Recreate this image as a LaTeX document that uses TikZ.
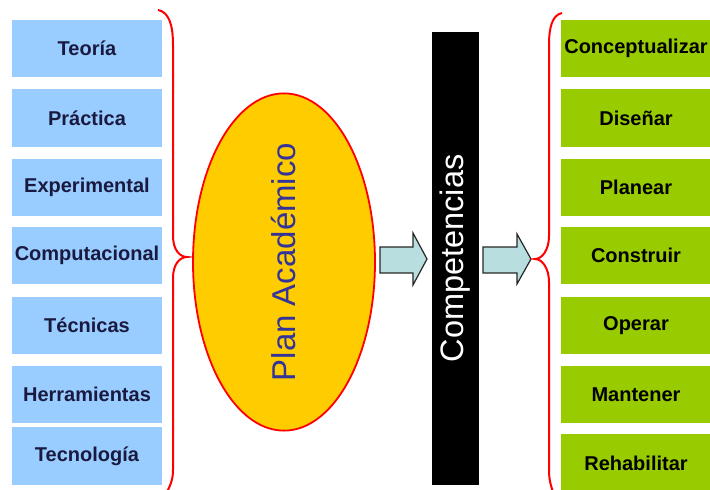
\documentclass[tikz,border=0pt]{standalone}
\usepackage{fontspec}
\setmainfont{Liberation Sans}
\usetikzlibrary{shapes.geometric}
\definecolor{lblue}{HTML}{99CCFF}
\definecolor{lgreen}{HTML}{99CC00}
\definecolor{gold}{HTML}{FFCC00}
\definecolor{navy}{HTML}{1A1A40}
\definecolor{pblue}{HTML}{333399}
\definecolor{acyan}{HTML}{B8DEE0}
\begin{document}
\begin{tikzpicture}[x=1pt,y=-1pt,
  boxbase/.style={rectangle, draw=none, inner sep=0pt, minimum width=150pt,
    font=\fontsize{20}{21}\selectfont\bfseries},
  lbox/.style={boxbase, fill=lblue, text=navy},
  rbox/.style={boxbase, fill=lgreen, text=black},
  bracestyle/.style={draw=red, line width=2pt},
  blockarrow/.style={fill=acyan, draw=black!85, line width=1.2pt, line join=miter}]
\useasboundingbox (0,0) rectangle (710,490);
% left column
\node[lbox, minimum height=57pt] (l1) at (87,48.5) {Teoría};
\node[lbox, minimum height=58pt] (l2) at (87,118) {Práctica};
\node[lbox, minimum height=57pt] (l3) at (87,187.5) {Experimental};
\node[lbox, minimum height=57pt] (l4) at (87,255.5) {Computacional};
\node[lbox, minimum height=57pt] (l5) at (87,325.5) {Técnicas};
\node[lbox, minimum height=57pt] (l6) at (87,394.5) {Herramientas};
\node[lbox, minimum height=58pt] (l7) at (87,456) {Tecnología};
% right column
\node[rbox, minimum height=57pt] (r1) at (636,48.5) {Conceptualizar};
\node[rbox, minimum height=58pt] (r2) at (636,118) {Diseñar};
\node[rbox, minimum height=57pt] (r3) at (636,187.5) {Planear};
\node[rbox, minimum height=57pt] (r4) at (636,255.5) {Construir};
\node[rbox, minimum height=57pt] (r5) at (636,325.5) {Operar};
\node[rbox, minimum height=57pt] (r6) at (636,394.5) {Mantener};
\node[rbox, minimum height=58pt] (r7) at (636,463) {Rehabilitar};
% ellipse
\node[ellipse, rotate=90, minimum width=309pt, minimum height=182pt, inner sep=0pt,
  fill=gold, draw=red, line width=1.8pt, text=pblue,
  font=\fontsize{33}{34}\selectfont] (plan) at (284,262) {Plan Académico};
% black bar
\node[rectangle, rotate=90, minimum width=453pt, minimum height=47pt, inner sep=0pt,
  fill=black, text=white, font=\fontsize{32.5}{34}\selectfont] (comp) at (455.5,258.5) {Competencias};
% block arrows
\draw[blockarrow] (380,247) -- (413,247) -- (413,233) -- (427,259) -- (413,285)
  -- (413,273) -- (380,273) -- cycle;
\draw[blockarrow] (483,247) -- (517,247) -- (517,234) -- (531,259) -- (517,284)
  -- (517,273) -- (483,273) -- cycle;
% left brace
\draw[bracestyle] (158,10) .. controls (169,12) and (173,25) .. (173,45) -- (173,236)
  .. controls (173,250) and (180,257) .. (187,257)
  .. controls (180,257) and (173,264) .. (173,278) -- (173,470)
  .. controls (173,480) and (170,486) .. (167,492);
% right brace
\draw[bracestyle] (562,13) .. controls (552,15) and (549,28) .. (549,45) -- (549,236)
  .. controls (549,250) and (542,259) .. (535,259)
  .. controls (542,259) and (549,268) .. (549,282) -- (549,470)
  .. controls (549,480) and (551,486) .. (553,492);
\end{tikzpicture}
\end{document}
